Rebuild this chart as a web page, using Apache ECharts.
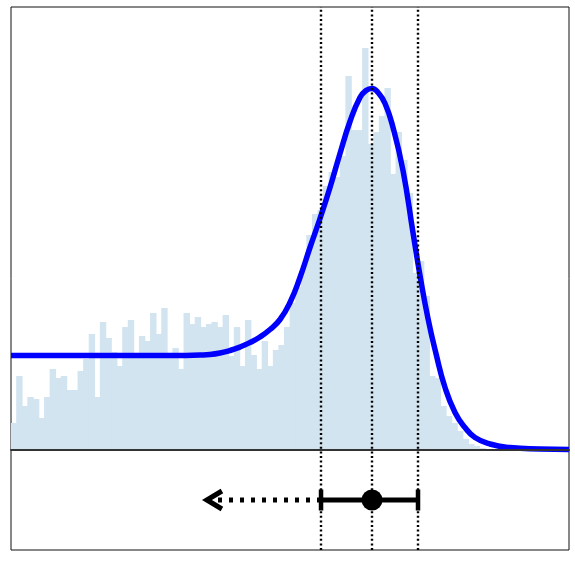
<!DOCTYPE html>
<html>
<head>
<meta charset="utf-8">
<script src="https://cdn.jsdelivr.net/npm/echarts@6/dist/echarts.min.js"></script>
<style>
  html, body { margin: 0; padding: 0; background: #fff; }
  #container { width: 575px; height: 561px; }
</style>
</head>
<body>
<div id="container"></div>
<script>
// histogram counts per bin (100 bins across the axis, the tail is empty)
var binCounts = [
  27, 74, 44, 53, 51, 32, 53, 81, 72, 74,
  60, 60, 79, 91, 116, 53, 128, 112, 98, 84,
  123, 130, 94, 114, 109, 137, 116, 142, 94, 102,
  81, 137, 126, 133, 123, 126, 128, 123, 135, 94,
  123, 84, 130, 95, 81, 109, 84, 100, 105, 123,
  147, 163, 185, 215, 236, 240, 264, 278, 273, 294,
  374, 320, 320, 402, 306, 318, 334, 362, 276, 318,
  290, 257, 177, 189, 154, 74, 72, 44, 34, 27,
  19, 11, 6, 4, 2, 1
];
var binCount = 100;

// fitted curve
var curveX = [0, 16, 30, 33.87, 35.66, 37.46, 39.25, 41.04, 42.83, 44.62, 46.42, 48.21, 50,
  51.79, 53.58, 55.38, 57.17, 58.96, 60.75, 62.54, 63.62, 64.7, 65.77, 67.03, 68.46, 70.25,
  72.04, 73.3, 74.73, 76.16, 77.78, 79.57, 81.36, 83.15, 85.84, 89.43, 94.8, 100];
var curveY = [94.5, 94.5, 94.5, 95, 95.5, 97, 99.5, 103, 107.5, 113, 120.5, 130.5, 147.5,
  172.5, 202.5, 231.5, 262.5, 296.5, 328.5, 352.5, 359.5, 361.5, 357.5, 346.5, 322.5, 279.5,
  217.5, 174.5, 131.5, 96.5, 62.5, 37.5, 22.5, 12.5, 6, 2.5, 1, 0.5];

// interval: lower, centre, upper
var markerX = [55.56, 64.7, 72.94];
var arrowTipX = 35.1;
var errorBarY = -50;

var categories = [];
for (var i = 0; i < binCount; i++) categories.push(String(i));

var curveData = curveX.map(function (x, i) { return [x, curveY[i]]; });

var dom = document.getElementById("container");
var myChart = echarts.init(dom);

var option = {
  animation: false,
  grid: {
    left: 11, right: 6, top: 7, bottom: 11,
    show: true,
    borderColor: "#111",
    borderWidth: 1,
    backgroundColor: "transparent"
  },
  xAxis: [
    {
      type: "category",
      data: categories,
      boundaryGap: true,
      axisLine: { show: true, onZero: true, lineStyle: { color: "#333", width: 2 } },
      axisTick: { show: false },
      axisLabel: { show: false },
      splitLine: { show: false },
      z: 5
    },
    {
      type: "value",
      min: 0,
      max: binCount,
      show: false
    }
  ],
  yAxis: {
    type: "value",
    min: -100,
    max: 443,
    show: false,
    splitLine: { show: false }
  },
  series: [
    {
      type: "bar",
      data: binCounts,
      barWidth: 6.4,
      itemStyle: { color: "#d2e4f0" },
      z: 1
    },
    {
      type: "line",
      xAxisIndex: 1,
      data: curveData,
      smooth: 0.5,
      showSymbol: false,
      lineStyle: { color: "#0000ff", width: 5.5 },
      z: 3,
      markLine: {
        silent: true,
        symbol: "none",
        label: { show: false },
        lineStyle: { color: "#000", width: 2.4, type: [2, 2.6] },
        data: markerX.map(function (x) { return { xAxis: x }; }),
        z: 6
      }
    },
    {
      // dotted arrow shaft
      type: "line",
      xAxisIndex: 1,
      data: [[markerX[0], errorBarY], [arrowTipX, errorBarY]],
      showSymbol: false,
      lineStyle: { color: "#000", width: 5, type: [4, 7], cap: "butt" },
      z: 4
    },
    {
      // arrow head
      type: "line",
      xAxisIndex: 1,
      data: [[arrowTipX + 2.7, errorBarY + 9], [arrowTipX, errorBarY], [arrowTipX + 2.7, errorBarY - 9]],
      showSymbol: false,
      lineStyle: { color: "#000", width: 5, join: "miter" },
      z: 4
    },
    {
      // interval bar
      type: "line",
      xAxisIndex: 1,
      data: [[markerX[0], errorBarY], [markerX[2], errorBarY]],
      showSymbol: false,
      lineStyle: { color: "#000", width: 5 },
      z: 4
    },
    {
      type: "scatter",
      xAxisIndex: 1,
      data: [[markerX[0], errorBarY], [markerX[2], errorBarY]],
      symbol: "rect",
      symbolSize: [4.5, 21],
      itemStyle: { color: "#000", opacity: 1 },
      z: 7
    },
    {
      type: "scatter",
      xAxisIndex: 1,
      data: [[markerX[1], errorBarY]],
      symbol: "circle",
      symbolSize: 21,
      itemStyle: { color: "#000", opacity: 1 },
      z: 7
    }
  ]
};

myChart.setOption(option);
</script>
</body>
</html>
